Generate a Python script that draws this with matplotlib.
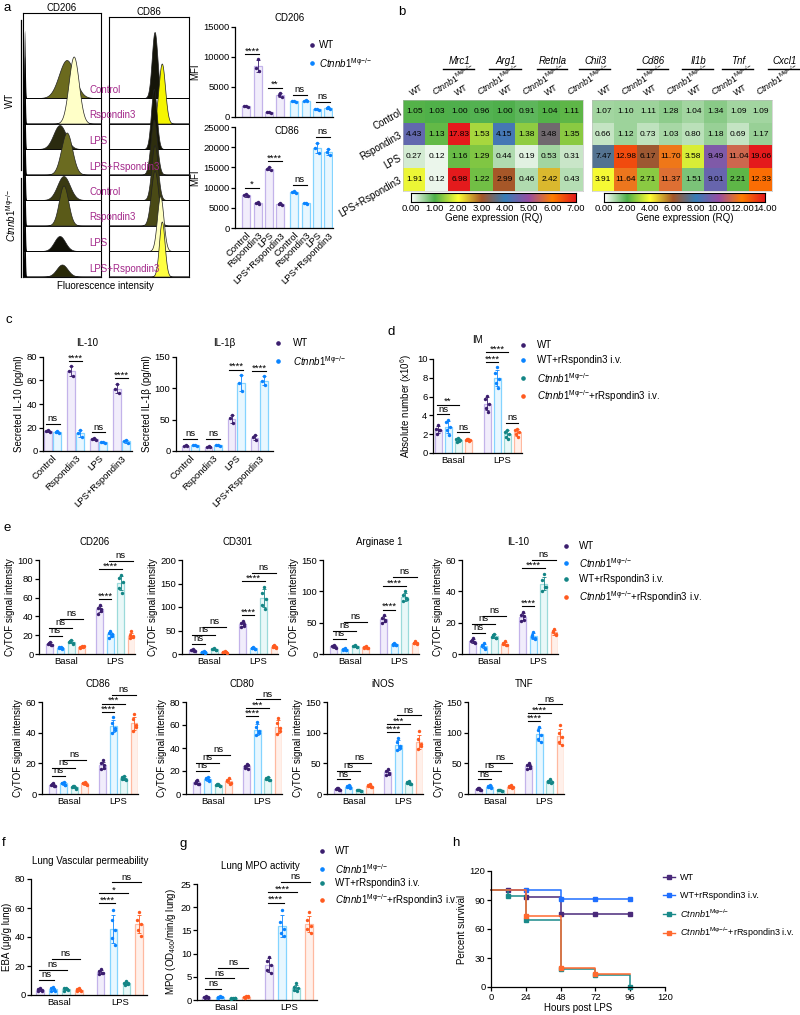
import numpy as np
import matplotlib
matplotlib.use('Agg')
import matplotlib.pyplot as plt
from matplotlib.colors import LinearSegmentedColormap
from matplotlib.lines import Line2D

plt.rcParams['font.family'] = ['Liberation Sans', 'DejaVu Sans']
plt.rcParams['mathtext.fontset'] = 'custom'
plt.rcParams['mathtext.rm'] = 'Liberation Sans'
plt.rcParams['mathtext.it'] = 'Liberation Sans:italic'
plt.rcParams['mathtext.bf'] = 'Liberation Sans:bold'

KO = r'$\mathit{Ctnnb1}^{\mathrm{Mφ{-}/{-}}}$'
KO_R = KO + '+rRspondin3 i.v.'

# ---------------- data ----------------
# a: flow histograms (peak position 0-1, width, height in px, colour)
flow_rows = ['Control', 'Rspondin3', 'LPS', 'LPS+Rspondin3'] * 2
cd206_peak_pos = [0.56, 0.65, 0.47, 0.56, 0.52, 0.52, 0.47, 0.50]
cd206_peak_wid = [0.10, 0.065, 0.08, 0.07, 0.08, 0.06, 0.07, 0.07]
cd206_peak_hgt = [38, 67, 24, 42, 24, 40, 15, 12]
cd206_colors = ['#6b6a1e', '#ffffc8', '#2b2b10', '#6b6b20', '#3a3a12', '#5a5a18', '#111108', '#2a2a08']
cd86_peak_pos = [0.57, 0.66, 0.56, 0.56, 0.57, 0.57, 0.64, 0.66]
cd86_peak_wid = [0.035, 0.04, 0.035, 0.04, 0.04, 0.045, 0.04, 0.035]
cd86_peak_hgt = [66, 60, 60, 55, 55, 55, 55, 55]
cd86_colors = ['#15150a', '#f5f500', '#151505', '#2e2e0e', '#3a3a10', '#4a4a15', '#ffffc0', '#ffff40']

# a: MFI bar charts (3 dots per bar)
a_groups = ['Control', 'Rspondin3', 'LPS', 'LPS+Rspondin3']
cd206_wt = [[1850, 1800, 1750], [9600, 8200, 7600], [900, 800, 750], [4000, 3700, 3400]]
cd206_ko = [[2700, 2600, 2500], [2800, 2700, 2600], [1400, 1300, 1200], [1600, 1500, 1400]]
cd206_sig = ['****', '**', 'ns', 'ns']
cd86_wt = [[8500, 8100, 7800], [6400, 6200, 6000], [15000, 14600, 14300], [6200, 6000, 5800]]
cd86_ko = [[9100, 8800, 8600], [6300, 6100, 5900], [21000, 19800, 18500], [19500, 18800, 18000]]
cd86_sig = ['*', '****', 'ns', 'ns']

# b: heatmaps
hm_rows = ['Control', 'Rspondin3', 'LPS', 'LPS+Rspondin3']
hm_left_genes = ['Mrc1', 'Arg1', 'Retnla', 'Chil3']
hm_right_genes = ['Cd86', 'Il1b', 'Tnf', 'Cxcl1']
hm_left = [[1.05, 1.03, 1.00, 0.96, 1.00, 0.91, 1.04, 1.11],
           [4.43, 1.13, 17.83, 1.53, 4.15, 1.38, 3.48, 1.35],
           [0.27, 0.12, 1.16, 1.29, 0.44, 0.19, 0.53, 0.31],
           [1.91, 0.12, 6.98, 1.22, 2.99, 0.46, 2.42, 0.43]]
hm_right = [[1.07, 1.10, 1.11, 1.28, 1.04, 1.34, 1.09, 1.09],
            [0.66, 1.12, 0.73, 1.03, 0.80, 1.18, 0.69, 1.17],
            [7.47, 12.98, 6.17, 11.70, 3.58, 9.49, 11.04, 19.06],
            [3.91, 11.64, 2.71, 11.37, 1.51, 9.01, 2.21, 12.33]]

# c: secreted cytokines
il10_wt = [[18, 17, 16], [72, 68, 64], [11, 10, 9], [57, 53, 49]]
il10_ko = [[17, 16, 15.5], [18, 15, 12], [8, 7.5, 7], [9.5, 8.5, 7]]
il10_sig = ['ns', '****', 'ns', '****']
il1b_wt = [[9, 8, 7.5], [8, 7, 6.5], [58, 52, 45], [25, 22, 17]]
il1b_ko = [[10, 9, 8.5], [10, 9, 8.5], [121, 109, 96], [119, 112, 105]]
il1b_sig = ['ns', 'ns', '****', '****']

# d: IM absolute number (WT, WT+r, KO, KO+r)
d_basal = [[3.0, 2.6, 2.4, 2.0, 2.5], [3.5, 3.3, 2.8, 2.4, 1.9],
           [1.6, 1.5, 1.35, 1.2, 1.3], [1.5, 1.4, 1.35, 1.45, 1.3]]
d_lps = [[6.1, 5.7, 5.2, 4.75, 4.4], [9.1, 8.5, 7.9, 7.4, 6.9],
         [2.5, 2.25, 2.0, 1.7, 1.5], [2.6, 2.5, 2.25, 2.0, 1.7]]
d_sig_basal = ['ns', '**', 'ns']
d_sig_lps = ['****', '****', 'ns']

# e: CyTOF (WT, KO, WT+r, KO+r)
e_markers = ['CD206', 'CD301', 'Arginase 1', 'IL-10', 'CD86', 'CD80', 'iNOS', 'TNF']
e_basal = [
    [[13, 11, 10, 12, 9.5], [7.5, 6, 5, 7, 6.5], [15, 13, 11, 14, 12], [9, 7, 8, 6.5, 7.5]],
    [[10, 8, 7, 9, 6], [6, 4, 3, 5, 4], [12, 10, 9, 11, 8], [6, 4, 3, 5, 4]],
    [[15, 12, 10, 13, 11], [9, 7, 6, 8, 7], [14, 12, 11, 13, 11], [12, 10, 9, 11, 10]],
    [[10, 8, 7, 9, 7.5], [7, 5, 4, 6, 3.5], [13, 11, 10, 12, 10.5], [8, 6.5, 6, 7, 6]],
    [[7, 6, 5, 6.5, 5], [8, 7, 6, 7.5, 6], [5.5, 4.5, 4, 5, 3.5], [8, 7, 6, 7, 6.5]],
    [[12, 10, 9, 11, 9], [15, 13, 11, 14, 12], [9, 8, 7, 8.5, 7], [14, 12, 10, 11, 9]],
    [[10, 8, 7, 9, 7], [15, 12, 10, 13, 11], [7, 6, 5, 6, 5], [16, 13, 11, 14, 12]],
    [[10, 8, 7, 9, 6], [15, 12, 11, 13, 10], [7, 6, 5, 6, 5], [14, 12, 11, 13, 10]],
]
e_lps = [
    [[52, 49, 46, 43, 48], [25, 22, 19, 17, 21], [84, 81, 77, 70, 65], [24, 20, 18, 17, 19]],
    [[70, 65, 60, 58, 63], [15, 12, 10, 13, 11], [143, 130, 118, 105, 95], [20, 17, 14, 15, 13]],
    [[62, 57, 52, 50, 55], [18, 15, 14, 16, 14], [100, 94, 88, 84, 90], [20, 17, 16, 18, 17]],
    [[27, 25, 22, 21, 24], [14, 11, 9.5, 12, 10], [51, 47, 43, 40, 43], [16, 14, 12, 15, 13]],
    [[22, 20, 17, 16, 19], [50, 46, 43, 40, 42], [12, 10, 9, 11, 9.5], [52, 49, 45, 41, 44]],
    [[26, 24, 22, 23, 25], [63, 58, 53, 51, 55], [15, 13, 12, 14, 12.5], [66, 62, 57, 52, 55]],
    [[40, 37, 33, 31, 35], [92, 85, 78, 72, 75], [21, 19, 17, 18, 16], [102, 90, 82, 74, 78]],
    [[50, 47, 43, 40, 45], [110, 105, 97, 90, 85], [25, 22, 19, 20, 18], [112, 100, 93, 85, 80]],
]
e_sig_lps = [['****', '****', 'ns']] * 4 + [['****', '***', 'ns']] * 3 + [['****', '****', 'ns']]
e_ymax = [100, 200, 150, 60, 60, 80, 150, 150]
e_ystep = [20, 50, 50, 20, 20, 20, 50, 50]

# f: lung vascular permeability, g: MPO (WT, KO, WT+r, KO+r)
f_basal = [[4.5, 4, 3, 2.5, 3.5], [5.5, 4.5, 3, 2.7, 3.8], [5, 4.5, 3.5, 3, 4], [4.5, 4, 3, 2.8, 3.6]]
f_lps = [[18, 16.5, 15, 14.5, 15.5], [58.5, 52, 45, 39, 34.5], [9.5, 8, 7.5, 7, 8.5], [57.5, 52, 49, 45, 41]]
f_sig_lps = ['****', '*', 'ns']
g_basal = [[0.8, 0.6, 0.5, 0.4, 0.6], [0.9, 0.7, 0.6, 0.5, 0.6], [0.5, 0.4, 0.35, 0.3, 0.45], [0.9, 0.7, 0.6, 0.5, 0.8]]
g_lps = [[9.3, 8.5, 7.6, 6.5, 5.8], [19.5, 16.9, 15.3, 14.4, 13.7], [3.6, 2.9, 2.5, 2.2, 2.0], [19, 17.3, 16, 15.3, 14.5]]
g_sig_lps = ['****', '****', 'ns']

# h: survival
h_labels = ['WT', 'WT+rRspondin3 i.v.', KO, KO_R]
h_step_t = [[0, 24, 48, 96], [0, 48, 96], [0, 12, 24, 48, 72, 96], [0, 24, 48, 72, 96]]
h_step_s = [[100, 93, 76, 76], [100, 91, 91], [100, 94, 69, 19, 12.5, 0], [100, 73, 20, 13, 13]]
h_mark_t = [[12, 24, 48, 72, 96], [24, 48, 72, 96], [12, 24, 48, 72, 96], [24, 48, 72]]
h_mark_s = [[100, 93, 76, 76, 76], [100, 91, 91, 91], [94, 69, 19, 12.5, 0], [73, 20, 13]]

# ---------------- style ----------------
PUR, PUR_E, PUR_F = '#3b1e6e', '#c3b3ea', '#f1edfb'
BLU, BLU_E, BLU_F = '#0a84ff', '#84d4ff', '#e8f7ff'
TEA, TEA_E, TEA_F = '#138585', '#9bdada', '#e9f8f8'
ORA, ORA_E, ORA_F = '#ff5a1f', '#ffb9a0', '#fff0ea'
LAB = '#a3288a'
FS = 6.8
LF = 7.0

W, H = 800, 1015
fig = plt.figure(figsize=(8, 10.15), dpi=100)


def px_axes(x0, y0, x1, y1):
    return fig.add_axes([x0 / W, 1 - y1 / H, (x1 - x0) / W, (y1 - y0) / H])


def ftext(x, y, s, **kw):
    fig.text(x / W, 1 - y / H, s, **kw)


def fline(xs, ys, **kw):
    fig.add_artist(Line2D([x / W for x in xs], [1 - y / H for y in ys], **kw))


def prism(ax, ymax, ystep):
    for s in ['top', 'right']:
        ax.spines[s].set_visible(False)
    for s in ['left', 'bottom']:
        ax.spines[s].set_linewidth(0.9)
    ax.set_ylim(0, ymax)
    ax.set_yticks(np.arange(0, ymax + ystep / 2, ystep))
    ax.tick_params(axis='y', length=3, width=0.9, labelsize=FS, pad=1)
    ax.tick_params(axis='x', length=0, labelsize=FS, pad=2)


def draw_bars(ax, xs, dots, dcols, ecols, fcols, width):
    offs = {3: np.array([0.0, -0.22, 0.22]), 5: np.array([0.0, -0.25, 0.25, -0.2, 0.2])}
    for x, d, dc, ec, fc in zip(xs, dots, dcols, ecols, fcols):
        d = np.array(d, dtype=float)
        m, sd = d.mean(), d.std(ddof=1)
        ax.bar(x, m, width, color=fc, edgecolor=ec, lw=0.9, zorder=1)
        ax.errorbar(x, m, yerr=sd, color=dc, lw=0.6, capsize=1.2, capthick=0.6, zorder=2)
        ax.scatter(x + offs[len(d)] * width, d, s=6, color=dc, zorder=3, lw=0)


def add_brackets(ax, xs, dots, pairs, labels, ymax, pad=0.06, step=0.09):
    placed = []
    for (i, j), lab in zip(pairs, labels):
        lvl = max(max(dots[k]) for k in range(i, j + 1)) + pad * ymax
        for pi, pj, pl in placed:
            if i < pj and pi < j:
                lvl = max(lvl, pl + step * ymax)
        placed.append((i, j, lvl))
        ax.plot([xs[i] - 0.1, xs[j] + 0.1], [lvl, lvl], color='k', lw=0.8, clip_on=False)
        off = 0.3 if '*' in lab else 2.0
        ax.annotate(lab, ((xs[i] + xs[j]) / 2, lvl), xytext=(0, off), textcoords='offset points',
                    ha='center', va='baseline', fontsize=FS, annotation_clip=False)


def fig_legend(xm, xt, ys, cols, labels, line=False, fs=LF):
    for y, c, lab in zip(ys, cols, labels):
        if line:
            fline([xm - 6, xm + 6], [y, y], color=c, lw=1)
            fline([xm], [y], color=c, marker='s', ms=2.5, lw=0)
        else:
            fline([xm], [y], color=c, marker='o', ms=2.3, lw=0)
        ftext(xt, y, lab, ha='left', va='center', fontsize=fs)


# ---------------- panel letters ----------------
for lab, x, y in [('a', 3, 8), ('b', 398, 12), ('c', 5, 320), ('d', 388, 332),
                  ('e', 4, 528), ('f', 2, 843), ('g', 180, 844), ('h', 452, 843)]:
    ftext(x, y, lab, fontsize=9.5, ha='left', va='center')

# ---------------- a: flow histograms ----------------
xg = np.linspace(0, 1, 400)
for (x0, x1, top), pos, wid, hgt, cols, title in [
        ((23, 101, 13), cd206_peak_pos, cd206_peak_wid, cd206_peak_hgt, cd206_colors, 'CD206'),
        ((109, 189, 17), cd86_peak_pos, cd86_peak_wid, cd86_peak_hgt, cd86_colors, 'CD86')]:
    ax = px_axes(x0, top, x1, 277)
    ax.set_xlim(0, 1)
    ax.set_ylim(277, top)
    for k in range(8):
        base = 98 + 25.5 * k
        prof = hgt[k] * np.exp(-(xg - pos[k]) ** 2 / (2 * wid[k] ** 2))
        ax.fill_between(xg, base, base - prof, color=cols[k], edgecolor='#222', lw=0.5, zorder=2 + k)
        ax.plot([0, 1], [base, base], color='k', lw=0.6, zorder=2 + k)
        if title == 'CD206':
            spike = 68 * np.exp(-(xg - 0.02) ** 2 / (2 * 0.008 ** 2))
            ax.fill_between(xg, base, base - spike, color='k', lw=0, zorder=2 + k)
    ax.set_xticks([])
    ax.set_yticks([])
    for s in ax.spines.values():
        s.set_linewidth(0.8)
    ftext((x0 + x1) / 2, top - 5, title, ha='center', va='center', fontsize=LF)

for k, lab in enumerate(flow_rows):
    ftext(89, 98 + 25.5 * k - 8, lab, ha='left', va='center', fontsize=LF, color=LAB, zorder=20)
ftext(105, 286, 'Fluorescence intensity', ha='center', va='center', fontsize=LF)
fline([21, 21], [20, 170], color='k', lw=0.9)
fline([21, 21], [178, 277], color='k', lw=0.9)
ftext(10, 100, 'WT', rotation=90, ha='center', va='center', fontsize=LF)
ftext(11, 215, KO, rotation=90, ha='center', va='center', fontsize=LF)

# ---------------- a: MFI bars ----------------
a_pos = [0, 1, 2, 3, 4.2, 5.2, 6.2, 7.2]
a_dc = [PUR] * 4 + [BLU] * 4
a_ec = [PUR_E] * 4 + [BLU_E] * 4
a_fc = [PUR_F] * 4 + [BLU_F] * 4
for (y0, y1), wt, ko, sig, ymax, ystep, title, last in [
        ((27, 117), cd206_wt, cd206_ko, cd206_sig, 15000, 5000, 'CD206', False),
        ((127, 228), cd86_wt, cd86_ko, cd86_sig, 25000, 5000, 'CD86', True)]:
    ax = px_axes(235, y0, 333, y1)
    dots = wt + ko
    draw_bars(ax, a_pos, dots, a_dc, a_ec, a_fc, 0.7)
    prism(ax, ymax, ystep)
    ax.set_xlim(-0.97, 7.6)
    add_brackets(ax, a_pos, dots, [(0, 1), (2, 3), (4, 5), (6, 7)], sig, ymax)
    ax.set_ylabel('MFI', fontsize=LF, labelpad=2)
    if last:
        ax.set_xticks(a_pos)
        ax.set_xticklabels(a_groups * 2, rotation=45, ha='right', rotation_mode='anchor')
    else:
        ax.set_xticks([])
    ftext(290 if not last else 287, y0 - 9 if not last else y0 + 4, title, ha='center', va='center', fontsize=LF)
fig_legend(312, 319, [45, 63], [PUR, BLU], ['WT', KO])

# ---------------- b: heatmaps ----------------
cmap = LinearSegmentedColormap.from_list(
    'rq', ['#ffffff', '#4daf4a', '#ffff33', '#a65628', '#377eb8', '#984ea3', '#ff7f00', '#e41a1c'])
for (x0, x1), vals, vmax, genes, gene_lines, cb_x in [
        ((403, 583), hm_left, 7, hm_left_genes, [(443, 474), (489, 521), (537, 567), (579, 610)], (411, 576)),
        ((592, 772), hm_right, 14, hm_right_genes, [(637, 668), (682, 713), (722, 753), (768, 800)], (604, 765))]:
    ax = px_axes(x0, 100, x1, 191)
    v = np.array(vals)
    ax.imshow(v, cmap=cmap, vmin=0, vmax=vmax, aspect='auto')
    for r in range(v.shape[0]):
        for c in range(v.shape[1]):
            ax.text(c, r, f'{v[r, c]:.2f}', ha='center', va='center', fontsize=6.0)
    ax.set_xticks([])
    ax.set_yticks([])
    for s in ax.spines.values():
        s.set_linewidth(0.4)
        s.set_color('#bbbbbb')
    for c in range(8):
        lab = 'WT' if c % 2 == 0 else KO
        ax.text(c - 0.05, -0.6, lab, rotation=32, rotation_mode='anchor', ha='left', va='bottom',
                fontsize=6.4, clip_on=False)
    if x0 == 403:
        for r, lab in enumerate(hm_rows):
            ax.text(-0.6, r, lab, rotation=30, rotation_mode='anchor', ha='right', va='center',
                    fontsize=LF, clip_on=False)
    for g, (gx0, gx1) in zip(genes, gene_lines):
        ftext((gx0 + gx1) / 2 + 1, 61, g, ha='center', va='center', fontsize=LF, style='italic')
        fline([gx0, gx1], [69, 69], color='k', lw=1)
    cax = px_axes(cb_x[0], 193, cb_x[1], 202)
    cax.imshow(np.linspace(0, vmax, 256)[None, :], cmap=cmap, aspect='auto', extent=[0, vmax, 0, 1])
    cax.set_yticks([])
    cax.set_xticks(np.arange(0, vmax + 0.1, vmax / 7))
    cax.set_xticklabels([f'{t:.2f}' for t in np.arange(0, vmax + 0.1, vmax / 7)])
    cax.tick_params(axis='x', length=0, labelsize=FS, pad=1.5)
    cax.set_xlabel('Gene expression (RQ)', fontsize=LF, labelpad=0)
    for s in cax.spines.values():
        s.set_linewidth(0.8)

# ---------------- c: secreted cytokines ----------------
c_pos = [-0.2, 0.2, 0.8, 1.2, 1.8, 2.2, 2.8, 3.2]
c_dc = [PUR, BLU] * 4
c_ec = [PUR_E, BLU_E] * 4
c_fc = [PUR_F, BLU_F] * 4
for (x0, x1), wt, ko, sig, ymax, ystep, title, ylab, xl in [
        ((43, 132), il10_wt, il10_ko, il10_sig, 80, 20, 'IL-10', 'Secreted IL-10 (pg/ml)', (-0.42, 3.46)),
        ((176, 273), il1b_wt, il1b_ko, il1b_sig, 150, 50, 'IL-1β', 'Secreted IL-1β (pg/ml)', (-0.62, 3.6))]:
    ax = px_axes(x0, 357, x1, 451)
    dots = [d for pair in zip(wt, ko) for d in pair]
    draw_bars(ax, c_pos, dots, c_dc, c_ec, c_fc, 0.33)
    prism(ax, ymax, ystep)
    ax.set_xlim(*xl)
    add_brackets(ax, c_pos, dots, [(0, 1), (2, 3), (4, 5), (6, 7)], sig, ymax)
    ax.set_xticks([0, 1, 2, 3])
    ax.set_xticklabels(a_groups, rotation=45, ha='right', rotation_mode='anchor')
    ax.set_ylabel(ylab, fontsize=LF, labelpad=2)
    ftext((x0 + x1) / 2, 343, title, ha='center', va='center', fontsize=LF)
fig_legend(278, 293, [343, 361], [PUR, BLU], ['WT', KO])

# ---------------- grouped 4-bar helper ----------------
G4_OFF = [-1.5, -0.5, 0.5, 1.5]


def grouped4(ax, basal, lps, gap, cols, sig_b, sig_l, pairs, ymax, ystep, width, step=0.09):
    xb = [o for o in G4_OFF]
    xl = [gap + o for o in G4_OFF]
    dc, ec, fc = zip(*cols)
    draw_bars(ax, xb, basal, dc, ec, fc, width)
    draw_bars(ax, xl, lps, dc, ec, fc, width)
    prism(ax, ymax, ystep)
    add_brackets(ax, xb, basal, pairs, sig_b, ymax, step=step)
    add_brackets(ax, xl, lps, pairs, sig_l, ymax, step=step)
    ax.set_xticks([0, gap])
    ax.set_xticklabels(['Basal', 'LPS'])


# ---------------- d: IM ----------------
d_cols = [(PUR, PUR_E, PUR_F), (BLU, BLU_E, BLU_F), (TEA, TEA_E, TEA_F), (ORA, ORA_E, ORA_F)]
ax = px_axes(433, 359, 522, 453)
grouped4(ax, d_basal, d_lps, 4.9, d_cols, d_sig_basal, d_sig_lps, [(0, 1), (0, 2), (2, 3)], 10, 2, 0.7,
         step=0.105)
ax.set_xlim(-2.0, 6.9)
ax.set_ylabel('Absolute number (x10$^6$)', fontsize=LF, labelpad=2)
ftext(477, 340, 'IM', ha='center', va='center', fontsize=LF)
fig_legend(523, 537, [345, 360, 378, 396], [PUR, BLU, TEA, ORA], ['WT', 'WT+rRspondin3 i.v.', KO, KO_R])

# ---------------- e: CyTOF ----------------
e_cols = [(PUR, PUR_E, PUR_F), (BLU, BLU_E, BLU_F), (TEA, TEA_E, TEA_F), (ORA, ORA_E, ORA_F)]
e_x0 = [39, 182, 323, 462, 42, 186, 327, 468]
e_y = [(560, 654)] * 4 + [(702, 794)] * 4
for k in range(8):
    x0 = e_x0[k]
    y0, y1 = e_y[k]
    ax = px_axes(x0, y0, x0 + 96, y1)
    grouped4(ax, e_basal[k], e_lps[k], 4.67, e_cols, ['ns', 'ns', 'ns'], e_sig_lps[k],
             [(0, 1), (0, 2), (1, 3)], e_ymax[k], e_ystep[k], 0.65)
    ax.set_xlim(-2.53, 6.5)
    ax.set_ylabel('CyTOF signal intensity', fontsize=LF, labelpad=2)
    ftext(x0 + 56, y0 - 18, e_markers[k], ha='center', va='center', fontsize=LF)
fig_legend(566, 579, [546, 563, 579, 597], [PUR, BLU, TEA, ORA], ['WT', KO, 'WT+rRspondin3 i.v.', KO_R])

# ---------------- f, g ----------------
ax = px_axes(31, 879, 147, 995)
grouped4(ax, f_basal, f_lps, 4.7, e_cols, ['ns', 'ns', 'ns'], f_sig_lps, [(0, 1), (0, 2), (1, 3)], 80, 20, 0.6)
ax.set_xlim(-2.2, 6.8)
ax.set_ylabel('EBA (μg/g lung)', fontsize=LF, labelpad=2)
ftext(90, 861, 'Lung Vascular permeability', ha='center', va='center', fontsize=LF)

ax = px_axes(197, 884, 317, 1000)
grouped4(ax, g_basal, g_lps, 4.7, e_cols, ['ns', 'ns', 'ns'], g_sig_lps, [(0, 1), (0, 2), (1, 3)], 25, 5, 0.6)
ax.set_xlim(-2.2, 6.8)
ax.set_ylabel('MPO (OD$_{460}$/min/g lung)', fontsize=LF, labelpad=2)
ftext(260, 866, 'Lung MPO activity', ha='center', va='center', fontsize=LF)
fig_legend(322, 335, [851, 869, 883, 900], [PUR, BLU, TEA, ORA], ['WT', KO, 'WT+rRspondin3 i.v.', KO_R])

# ---------------- h: survival ----------------
h_cols = ['#4a2a7a', '#1f6fff', '#1a8a8a', '#ff6a30']
ax = px_axes(491, 871, 665, 987)
for t, s, mt, ms, c in zip(h_step_t, h_step_s, h_mark_t, h_mark_s, h_cols):
    ax.step(t, s, where='post', color=c, lw=1.1, clip_on=False)
    ax.plot(mt, ms, 's', color=c, ms=2.6, clip_on=False)
for sp in ['top', 'right']:
    ax.spines[sp].set_visible(False)
for sp in ['left', 'bottom']:
    ax.spines[sp].set_linewidth(0.9)
ax.set_xlim(0, 120)
ax.set_ylim(0, 120)
ax.set_xticks([0, 24, 48, 72, 96, 120])
ax.set_yticks([0, 30, 60, 90, 120])
ax.tick_params(length=3, width=0.9, labelsize=FS, pad=1)
ax.set_xlabel('Hours post LPS', fontsize=LF, labelpad=1)
ax.set_ylabel('Percent survival', fontsize=LF, labelpad=2)
fig_legend(669, 680, [877, 895, 914, 933], h_cols, h_labels, line=True, fs=6.5)

fig.savefig('out.png', dpi=100)
